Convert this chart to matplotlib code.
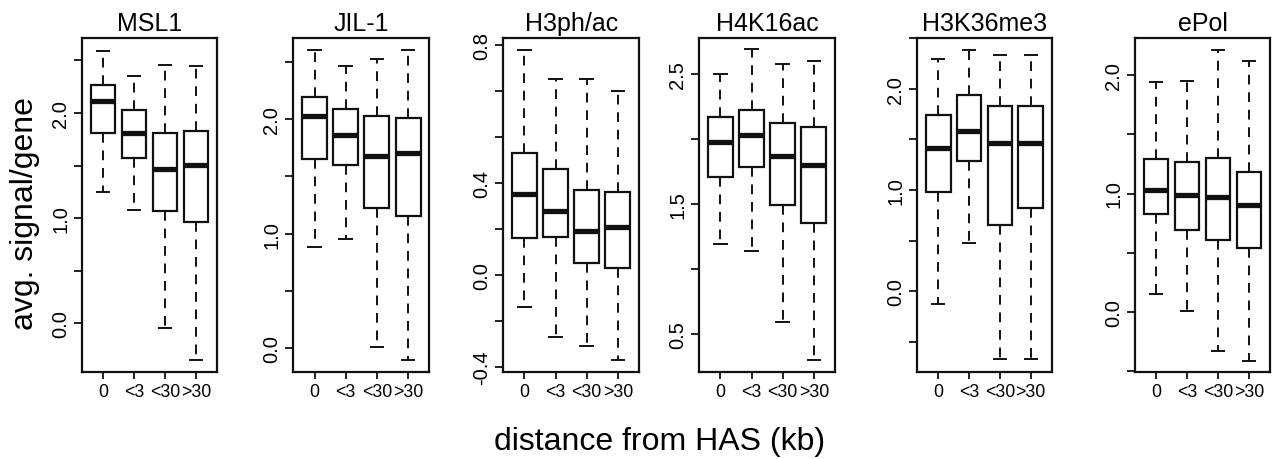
import matplotlib
matplotlib.use("Agg")
import matplotlib.pyplot as plt

plt.rcParams['font.family'] = ['Liberation Sans', 'DejaVu Sans']

categories = ["0", "<3", "<30", ">30"]

titles = ["MSL1", "JIL-1", "H3ph/ac", "H4K16ac", "H3K36me3", "ePol"]

# five-number summaries per category: (whisker low, Q1, median, Q3, whisker high)
msl1 = [(1.25, 1.81, 2.11, 2.27, 2.59),
        (1.08, 1.57, 1.81, 2.03, 2.35),
        (-0.04, 1.07, 1.47, 1.81, 2.46),
        (-0.35, 0.96, 1.51, 1.83, 2.45)]
jil1 = [(0.88, 1.65, 2.03, 2.19, 2.60),
        (0.95, 1.60, 1.86, 2.09, 2.46),
        (0.01, 1.22, 1.68, 2.03, 2.52),
        (-0.10, 1.15, 1.70, 2.01, 2.60)]
h3phac = [(-0.14, 0.16, 0.35, 0.53, 0.98),
          (-0.27, 0.165, 0.28, 0.46, 0.85),
          (-0.31, 0.05, 0.19, 0.37, 0.85),
          (-0.37, 0.03, 0.21, 0.36, 0.80)]
h4k16ac = [(1.19, 1.71, 1.98, 2.17, 2.50),
           (1.14, 1.78, 2.03, 2.22, 2.69),
           (0.59, 1.49, 1.87, 2.12, 2.58),
           (0.30, 1.35, 1.80, 2.09, 2.60)]
h3k36me3 = [(-0.13, 0.98, 1.41, 1.74, 2.29),
            (0.48, 1.29, 1.58, 1.94, 2.38),
            (-0.67, 0.65, 1.46, 1.83, 2.33),
            (-0.67, 0.82, 1.46, 1.83, 2.33)]
epol = [(0.15, 0.83, 1.03, 1.29, 1.94),
        (0.01, 0.69, 0.99, 1.27, 1.95),
        (-0.33, 0.61, 0.97, 1.30, 2.21),
        (-0.41, 0.54, 0.90, 1.18, 2.12)]

panels = [msl1, jil1, h3phac, h4k16ac, h3k36me3, epol]

# y-axis ticks and labels (as shown)
ytick_pos = [[0, 0.5, 1.0, 1.5, 2.0, 2.5],
             [0, 0.5, 1.0, 1.5, 2.0, 2.5],
             [-0.4, -0.2, 0.0, 0.2, 0.4, 0.6, 0.8, 1.0],
             [0.5, 1.0, 1.5, 2.0, 2.5],
             [-0.5, 0.0, 0.5, 1.0, 1.5, 2.0, 2.5],
             [-0.5, 0.0, 0.5, 1.0, 1.5, 2.0]]
ytick_lab = [["0.0", "", "1.0", "", "2.0", ""],
             ["0.0", "", "1.0", "", "2.0", ""],
             ["-0.4", "", "0.0", "", "0.4", "", "", "0.8"],
             ["0.5", "", "1.5", "", "2.5"],
             ["", "0.0", "", "1.0", "", "2.0", ""],
             ["", "0.0", "", "1.0", "", "2.0"]]
ylims = [(-0.463, 2.714), (-0.207, 2.707), (-0.422, 1.030),
         (0.204, 2.778), (-0.797, 2.501), (-0.507, 2.313)]

W, H = 1281, 460
fig = plt.figure(figsize=(W / 100, H / 100), dpi=100)

lefts = [82, 293.3, 503.3, 699.3, 917.3, 1135]
rights = [217, 429.3, 639, 835, 1051.7, 1270]
top_px, bot_px = 39, 373

col = "#111111"
for i, data in enumerate(panels):
    ax = fig.add_axes([lefts[i] / W, 1 - bot_px / H,
                       (rights[i] - lefts[i]) / W, (bot_px - top_px) / H])
    stats = []
    for (lo, q1, med, q3, hi), lab in zip(data, categories):
        stats.append(dict(whislo=lo, q1=q1, med=med, q3=q3, whishi=hi,
                          fliers=[], label=lab))
    ax.bxp(stats, positions=[1, 2, 3, 4], widths=0.8, capwidths=0.4,
           showfliers=False, patch_artist=True,
           boxprops=dict(facecolor="white", edgecolor=col, linewidth=1.6),
           medianprops=dict(color=col, linewidth=3.8, solid_capstyle="butt"),
           whiskerprops=dict(color=col, linewidth=1.4, linestyle=(0, (5, 4))),
           capprops=dict(color=col, linewidth=1.4))
    ax.set_xlim(0.32, 4.68)
    ax.set_ylim(*ylims[i])
    ax.set_yticks(ytick_pos[i])
    ax.set_yticklabels(ytick_lab[i], rotation=90, va="center", fontsize=14.5)
    ax.set_xticks([1, 2, 3, 4])
    ax.set_xticklabels(categories, fontsize=12.8)
    ax.tick_params(axis="y", length=6, width=1.3, pad=2.5, color=col)
    ax.tick_params(axis="x", length=5, width=1.3, pad=3, color=col)
    for s in ax.spines.values():
        s.set_linewidth(1.6)
        s.set_color(col)
    ax.set_title(titles[i], fontsize=18, pad=6)

fig.text(25 / W, 1 - 214 / H, "avg. signal/gene", rotation=90,
         ha="center", va="center", fontsize=23)
fig.text(660 / W, 1 - 442 / H, "distance from HAS (kb)",
         ha="center", va="center", fontsize=23)

fig.savefig("out.png", dpi=100)
